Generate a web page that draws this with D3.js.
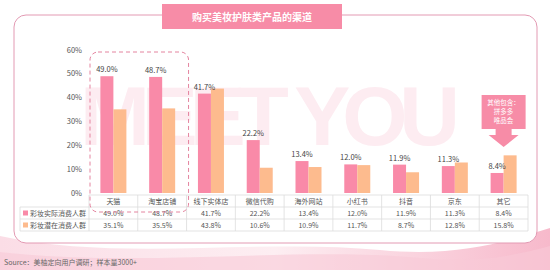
<!DOCTYPE html>
<html>
<head>
<meta charset="utf-8">
<script src="https://cdn.jsdelivr.net/npm/d3@7"></script>
<style>
body { margin: 0; background: #fff; }
text { font-family: "Noto Sans CJK SC", "Noto Sans", sans-serif; }
</style>
</head>
<body>
<div id="chart"></div>
<script>
var width = 550,
	height = 270;

var categories = ["天猫", "淘宝店铺", "线下实体店", "微信代购", "海外网站", "小红书", "抖音", "京东", "其它"];
var actualValues = [49.0, 48.7, 41.7, 22.2, 13.4, 12.0, 11.9, 11.3, 8.4];
var potentialValues = [35.1, 35.5, 43.8, 10.6, 10.9, 11.7, 8.7, 12.8, 15.8];
var seriesNames = ["彩妆实际消费人群", "彩妆潜在消费人群"];
var yTicks = [0, 10, 20, 30, 40, 50, 60];

var pink = "#f98aa8",
	orange = "#fdbb8e",
	textColor = "#555";

var svg = d3.select("#chart").append("svg")
	.attr("width", width)
	.attr("height", height)

// bottom waves
var defs = svg.append("defs");
var grad = defs.append("linearGradient").attr("id", "wave").attr("x1", 0).attr("x2", 1);
grad.append("stop").attr("offset", "0%").attr("stop-color", "#fbdde6");
grad.append("stop").attr("offset", "50%").attr("stop-color", "#fdeef2");
grad.append("stop").attr("offset", "100%").attr("stop-color", "#f7b9cb");

svg.append("path")
	.attr("d", "M0,236 C120,262 260,238 380,250 C460,258 510,240 550,228 L550,270 L0,270 Z")
	.attr("fill", "url(#wave)")
svg.append("path")
	.attr("d", "M0,252 C140,268 300,246 420,258 C480,264 520,254 550,246 L550,270 L0,270 Z")
	.attr("fill", "#f9c9d7")
	.attr("opacity", 0.6)

// frame
svg.append("rect")
	.attr("x", 14).attr("y", 15)
	.attr("width", 523).attr("height", 228)
	.attr("rx", 12)
	.attr("fill", "#fff")
	.attr("stroke", "#e39ab3")
	.attr("stroke-width", 1)

// title
svg.append("rect")
	.attr("x", 162).attr("y", 4)
	.attr("width", 180).attr("height", 25)
	.attr("fill", "#f78ca7")
svg.append("text")
	.attr("x", 252).attr("y", 20.5)
	.attr("text-anchor", "middle")
	.attr("fill", "#fff")
	.attr("font-size", 10)
	.attr("font-weight", "bold")
	.text("购买美妆护肤类产品的渠道")

// watermark
svg.append("text")
	.attr("x", 270).attr("y", 145)
	.attr("text-anchor", "middle")
	.attr("fill", "#fdecf1")
	.attr("font-size", 84)
	.attr("font-weight", "bold")
	.attr("textLength", 380)
	.attr("lengthAdjust", "spacing")
	.style("font-family", "Liberation Sans, sans-serif")
	.text("MEET YOU")

var x = d3.scaleBand()
	.domain(categories)
	.range([89, 528]);

var y = d3.scaleLinear()
	.domain([0, 60])
	.range([193, 50]);

var barW = 13;

// y axis labels
svg.selectAll(".ytick")
	.data(yTicks)
	.enter()
	.append("text")
	.attr("x", 82)
	.attr("y", function(d){ return y(d) + 2.5; })
	.attr("text-anchor", "end")
	.attr("fill", textColor)
	.attr("font-size", 7.5)
	.text(function(d){ return d + "%"; })

// bars
svg.selectAll(".bar1")
	.data(actualValues)
	.enter()
	.append("rect")
	.attr("x", function(d, i){ return x(categories[i]) + x.bandwidth()/2 - barW; })
	.attr("y", function(d){ return y(d); })
	.attr("width", barW)
	.attr("height", function(d){ return y(0) - y(d); })
	.attr("fill", pink)

svg.selectAll(".bar2")
	.data(potentialValues)
	.enter()
	.append("rect")
	.attr("x", function(d, i){ return x(categories[i]) + x.bandwidth()/2; })
	.attr("y", function(d){ return y(d); })
	.attr("width", barW)
	.attr("height", function(d){ return y(0) - y(d); })
	.attr("fill", orange)

svg.selectAll(".vlabel")
	.data(actualValues)
	.enter()
	.append("text")
	.attr("x", function(d, i){ return x(categories[i]) + x.bandwidth()/2 - barW/2; })
	.attr("y", function(d){ return y(d) - 4; })
	.attr("text-anchor", "middle")
	.attr("fill", "#444")
	.attr("font-size", 7.5)
	.text(function(d){ return d.toFixed(1) + "%"; })

// table
var rowTop = 195, rowH = 12;
var grid = svg.append("g").attr("stroke", "#dcdcdc").attr("stroke-width", 0.8);
[0, 1, 2, 3].forEach(function(r){
	grid.append("line")
		.attr("x1", r === 0 ? 89 : 20).attr("x2", 528)
		.attr("y1", rowTop + r*rowH).attr("y2", rowTop + r*rowH)
})
grid.append("line").attr("x1", 20).attr("x2", 20).attr("y1", rowTop + rowH).attr("y2", rowTop + 3*rowH)
categories.forEach(function(c){
	grid.append("line")
		.attr("x1", x(c)).attr("x2", x(c))
		.attr("y1", rowTop).attr("y2", rowTop + 3*rowH)
})
grid.append("line").attr("x1", 528).attr("x2", 528).attr("y1", rowTop).attr("y2", rowTop + 3*rowH)

svg.selectAll(".cat")
	.data(categories)
	.enter()
	.append("text")
	.attr("x", function(d){ return x(d) + x.bandwidth()/2; })
	.attr("y", rowTop + 9)
	.attr("text-anchor", "middle")
	.attr("fill", textColor)
	.attr("font-size", 7)
	.text(function(d){ return d; })

var rows = [actualValues, potentialValues];
var colors = [pink, orange];
rows.forEach(function(vals, r){
	var ty = rowTop + (r + 1)*rowH + 9;
	svg.append("rect")
		.attr("x", 23).attr("y", ty - 5.5)
		.attr("width", 5).attr("height", 5)
		.attr("fill", colors[r])
	svg.append("text")
		.attr("x", 30).attr("y", ty)
		.attr("fill", textColor)
		.attr("font-size", 7)
		.text(seriesNames[r])
	svg.selectAll(".row" + r)
		.data(vals)
		.enter()
		.append("text")
		.attr("x", function(d, i){ return x(categories[i]) + x.bandwidth()/2; })
		.attr("y", ty)
		.attr("text-anchor", "middle")
		.attr("fill", textColor)
		.attr("font-size", 7)
		.text(function(d){ return d.toFixed(1) + "%"; })
})

// highlight box around first two categories
svg.append("rect")
	.attr("x", x(categories[0]) + 1)
	.attr("y", 52)
	.attr("width", x.bandwidth()*2 + 1)
	.attr("height", 160)
	.attr("rx", 8)
	.attr("fill", "none")
	.attr("stroke", "#e4849f")
	.attr("stroke-width", 1)
	.attr("stroke-dasharray", "4,3")

// callout for 其它
var cx = x(categories[8]) + x.bandwidth()/2;
svg.append("path")
	.attr("d", "M" + (cx-22) + ",95 L" + (cx+22) + ",95 L" + (cx+22) + ",129 L" + (cx+8) + ",129 L" + (cx+8) + ",135 L" + (cx+15) + ",135 L" + cx + ",147 L" + (cx-15) + ",135 L" + (cx-8) + ",135 L" + (cx-8) + ",129 L" + (cx-22) + ",129 Z")
	.attr("fill", "#f78ca7")
var calloutLines = ["其他包含：", "拼多多", "唯品会"];
svg.selectAll(".callout")
	.data(calloutLines)
	.enter()
	.append("text")
	.attr("x", cx)
	.attr("y", function(d, i){ return 105 + i*9; })
	.attr("text-anchor", "middle")
	.attr("fill", "#fff")
	.attr("font-size", 6.5)
	.text(function(d){ return d; })

// source
svg.append("text")
	.attr("x", 4).attr("y", 265)
	.attr("fill", "#666")
	.attr("font-size", 7)
	.text("Source：美柚定向用户调研；样本量3000+")
</script>
</body>
</html>
